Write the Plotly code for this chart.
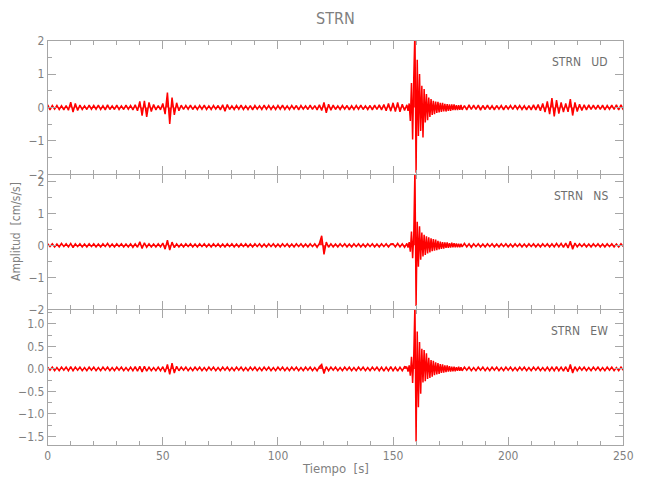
import plotly.graph_objects as go

# ---- sampling grid (s): 1 s before/after the event, 0.5 s inside the event window
t_pre = list(range(0, 156))
t_evt = [156 + 0.5 * i for i in range(48)]
t_post = list(range(180, 251))
time_s = t_pre + t_evt + t_post

# ---- UD component (cm/s/s)
ud_pre = [
    0.08, -0.07, 0.06, -0.05, 0.06, -0.06, 0.05, -0.07, 0.06, -0.08,
    0.16, -0.14, 0.12, -0.09, 0.07, -0.06, 0.05, -0.06, 0.07, -0.05,
    0.06, -0.05, 0.07, -0.06, 0.05, -0.07, 0.08, -0.06, 0.05, -0.06,
    0.07, -0.06, 0.05, -0.06, 0.07, -0.05, 0.06, -0.07, 0.08, -0.10,
    0.18, -0.24, 0.20, -0.28, 0.15, -0.12, 0.09, -0.07, 0.06, -0.07,
    0.12, -0.20, 0.45, -0.49, 0.30, -0.22, 0.14, -0.10, 0.07, -0.06,
    0.06, -0.05, 0.07, -0.06, 0.05, -0.06, 0.06, -0.05, 0.07, -0.06,
    0.05, -0.06, 0.06, -0.05, 0.06, -0.07, 0.08, -0.11, 0.09, -0.06,
    0.05, -0.06, 0.06, -0.05, 0.07, -0.06, 0.05, -0.06, 0.06, -0.07,
    0.06, -0.05, 0.05, -0.06, 0.07, -0.05, 0.06, -0.06, 0.05, -0.06,
    0.06, -0.05, 0.07, -0.06, 0.05, -0.06, 0.06, -0.05, 0.06, -0.07,
    0.06, -0.05, 0.05, -0.06, 0.07, -0.06, 0.06, -0.07, 0.08, -0.09,
    0.15, -0.16, 0.10, -0.08, 0.07, -0.06, 0.05, -0.06, 0.06, -0.05,
    0.06, -0.07, 0.05, -0.06, 0.06, -0.05, 0.07, -0.06, 0.05, -0.06,
    0.06, -0.07, 0.07, -0.06, 0.08, -0.07, 0.09, -0.10, 0.12, -0.11,
    0.14, -0.12, 0.15, -0.13, 0.10, -0.09,
]
ud_evt = [
    0.08, -0.10, 0.12, -0.40, 0.73, -0.96, 0.90, 2.30, -1.95, 1.43,
    -0.85, 1.00, -0.70, 0.65, -0.90, 0.55, -0.45, 0.40, -0.38, 0.30,
    -0.28, 0.25, -0.22, 0.20, -0.20, 0.18, -0.16, 0.17, -0.15, 0.14,
    -0.13, 0.14, -0.12, 0.11, -0.12, 0.10, -0.10, 0.09, -0.10, 0.09,
    -0.08, 0.09, -0.08, 0.07, -0.08, 0.07, -0.07, 0.08,
]
ud_post = [
    -0.07, 0.06, -0.07, 0.08, -0.06, 0.07, -0.06, 0.07, -0.08, 0.06,
    -0.06, 0.07, -0.06, 0.05, -0.07, 0.06, -0.05, 0.06, -0.07, 0.06,
    -0.05, 0.06, -0.06, 0.07, -0.05, 0.06, -0.06, 0.05, -0.07, 0.06,
    -0.07, 0.08, -0.07, 0.09, -0.10, 0.12, -0.14, 0.18, -0.20, 0.28,
    -0.27, 0.22, -0.18, 0.15, -0.14, 0.12, -0.13, 0.25, -0.24, 0.15,
    -0.12, 0.10, -0.09, 0.08, -0.07, 0.08, -0.06, 0.07, -0.06, 0.07,
    -0.06, 0.07, -0.07, 0.06, -0.05, 0.07, -0.06, 0.08, -0.07, 0.08,
    -0.07,
]

# ---- NS component
ns_pre = [
    0.05, -0.04, 0.05, -0.05, 0.04, -0.05, 0.06, -0.04, 0.05, -0.05,
    0.06, -0.07, 0.05, -0.04, 0.05, -0.05, 0.04, -0.05, 0.05, -0.04,
    0.05, -0.05, 0.04, -0.05, 0.05, -0.04, 0.06, -0.05, 0.04, -0.05,
    0.05, -0.04, 0.05, -0.05, 0.04, -0.05, 0.05, -0.06, 0.05, -0.06,
    0.11, -0.10, 0.08, -0.06, 0.05, -0.05, 0.04, -0.05, 0.05, -0.05,
    0.07, -0.12, 0.16, -0.15, 0.10, -0.07, 0.05, -0.05, 0.04, -0.05,
    0.05, -0.04, 0.05, -0.05, 0.04, -0.05, 0.05, -0.04, 0.05, -0.05,
    0.04, -0.05, 0.05, -0.04, 0.05, -0.05, 0.04, -0.05, 0.05, -0.04,
    0.05, -0.05, 0.04, -0.05, 0.05, -0.04, 0.05, -0.05, 0.04, -0.05,
    0.05, -0.04, 0.05, -0.05, 0.04, -0.05, 0.05, -0.04, 0.05, -0.05,
    0.04, -0.05, 0.05, -0.04, 0.05, -0.05, 0.04, -0.05, 0.05, -0.04,
    0.05, -0.05, 0.04, -0.05, 0.05, -0.04, 0.05, -0.06, 0.06, 0.30,
    -0.28, 0.10, -0.06, 0.05, -0.05, 0.04, -0.05, 0.05, -0.04, 0.05,
    -0.05, 0.04, -0.05, 0.05, -0.04, 0.05, -0.05, 0.04, -0.05, 0.05,
    -0.04, 0.05, -0.05, 0.04, -0.05, 0.05, -0.04, 0.05, -0.05, 0.04,
    0.05, -0.05, 0.06, -0.05, 0.05, -0.06,
]
ns_evt = [
    0.06, -0.07, 0.10, -0.20, 0.43, -0.40, 0.35, 2.40, -1.90, 0.74,
    -0.67, 0.60, -0.45, 0.40, -0.35, 0.33, -0.30, 0.28, -0.25, 0.25,
    -0.22, 0.22, -0.18, 0.20, -0.17, 0.18, -0.15, 0.14, -0.13, 0.12,
    -0.11, 0.10, -0.10, 0.09, -0.08, 0.09, -0.08, 0.07, -0.07, 0.08,
    -0.06, 0.07, -0.06, 0.06, -0.06, 0.05, -0.06, 0.05,
]
ns_post = [
    -0.05, 0.06, -0.05, 0.05, -0.06, 0.05, -0.04, 0.05, -0.05, 0.04,
    -0.05, 0.05, -0.04, 0.05, -0.05, 0.04, -0.05, 0.05, -0.04, 0.05,
    -0.05, 0.04, -0.05, 0.05, -0.04, 0.05, -0.05, 0.04, -0.05, 0.05,
    -0.04, 0.05, -0.05, 0.04, -0.05, 0.05, -0.04, 0.05, -0.05, 0.05,
    -0.05, 0.06, -0.05, 0.06, -0.06, 0.07, -0.08, 0.13, -0.12, 0.07,
    -0.05, 0.05, -0.04, 0.05, -0.05, 0.04, -0.05, 0.05, -0.04, 0.05,
    -0.05, 0.04, -0.05, 0.05, -0.04, 0.05, -0.05, 0.04, -0.05, 0.05,
    -0.04,
]

# ---- EW component
ew_pre = [
    0.04, -0.03, 0.04, -0.04, 0.03, -0.04, 0.04, -0.03, 0.04, -0.04,
    0.05, -0.04, 0.04, -0.03, 0.04, -0.04, 0.03, -0.04, 0.04, -0.03,
    0.04, -0.04, 0.03, -0.04, 0.04, -0.03, 0.04, -0.04, 0.03, -0.04,
    0.04, -0.03, 0.04, -0.04, 0.03, -0.04, 0.04, -0.04, 0.05, -0.05,
    0.06, -0.07, 0.06, -0.05, 0.04, -0.04, 0.03, -0.04, 0.04, -0.04,
    0.05, -0.07, 0.10, -0.12, 0.13, -0.09, 0.06, -0.04, 0.04, -0.03,
    0.04, -0.04, 0.03, -0.04, 0.04, -0.03, 0.04, -0.04, 0.03, -0.04,
    0.04, -0.03, 0.04, -0.04, 0.03, -0.04, 0.04, -0.03, 0.04, -0.04,
    0.03, -0.04, 0.04, -0.03, 0.04, -0.04, 0.03, -0.04, 0.04, -0.03,
    0.04, -0.04, 0.03, -0.04, 0.04, -0.03, 0.04, -0.04, 0.03, -0.04,
    0.04, -0.03, 0.04, -0.04, 0.03, -0.04, 0.04, -0.03, 0.04, -0.04,
    0.03, -0.04, 0.04, -0.03, 0.04, -0.04, 0.03, -0.04, 0.05, 0.10,
    -0.10, 0.05, -0.04, 0.04, -0.03, 0.04, -0.04, 0.03, -0.04, 0.04,
    -0.03, 0.04, -0.04, 0.03, -0.04, 0.04, -0.03, 0.04, -0.04, 0.03,
    -0.04, 0.04, -0.03, 0.04, -0.04, 0.04, -0.05, 0.04, -0.04, 0.05,
    -0.04, 0.04, -0.05, 0.04, -0.04, 0.05,
]
ew_evt = [
    0.04, -0.06, 0.08, -0.15, 0.27, -0.31, 0.30, 1.45, -1.61, 0.83,
    -0.85, 0.60, -0.55, 0.45, -0.30, 0.42, -0.27, 0.35, -0.22, 0.25,
    -0.20, 0.20, -0.17, 0.18, -0.14, 0.15, -0.12, 0.13, -0.11, 0.11,
    -0.09, 0.10, -0.08, 0.08, -0.07, 0.08, -0.06, 0.06, -0.06, 0.05,
    -0.05, 0.05, -0.05, 0.04, -0.04, 0.05, -0.04, 0.04,
]
ew_post = [
    -0.04, 0.04, -0.03, 0.04, -0.04, 0.03, -0.04, 0.04, -0.03, 0.04,
    -0.04, 0.03, -0.04, 0.04, -0.03, 0.04, -0.04, 0.03, -0.04, 0.04,
    -0.03, 0.04, -0.04, 0.03, -0.04, 0.04, -0.03, 0.04, -0.04, 0.03,
    -0.04, 0.04, -0.03, 0.04, -0.04, 0.03, -0.04, 0.04, -0.04, 0.04,
    -0.04, 0.05, -0.04, 0.04, -0.05, 0.05, -0.06, 0.10, -0.09, 0.05,
    -0.04, 0.04, -0.03, 0.04, -0.04, 0.03, -0.04, 0.04, -0.03, 0.04,
    -0.04, 0.03, -0.04, 0.04, -0.03, 0.04, -0.04, 0.03, -0.04, 0.04,
    -0.03,
]

components = ["UD", "NS", "EW"]
station = "STRN"
series = {
    "UD": ud_pre + ud_evt + ud_post,
    "NS": ns_pre + ns_evt + ns_post,
    "EW": ew_pre + ew_evt + ew_post,
}
y_ranges = {"UD": [-2, 2], "NS": [-2.0, 2.2], "EW": [-1.69, 1.31]}
y_major = {"UD": 1, "NS": 1, "EW": 0.5}
y_minor = {"UD": 0.5, "NS": 0.5, "EW": 0.25}
y_fmt = {"UD": "d", "NS": "d", "EW": ".1f"}

W, H = 650, 500
OFF = 8  # page body margin added by the browser
x0_px, x1_px = 47.7 - OFF, 623.3 - OFF
panels_px = [(40.7 - OFF, 174.3 - OFF), (175.0 - OFF, 309.3 - OFF), (310.0 - OFF, 445.0 - OFF)]

AX = "#a6a6a6"
TXT = "#7f7f7f"
FONT = "DejaVu Sans Condensed, Liberation Sans Narrow, Liberation Sans, sans-serif"

fig = go.Figure()
for i, comp in enumerate(components):
    n = i + 1
    key = "" if n == 1 else str(n)
    fig.add_trace(go.Scatter(
        x=time_s, y=series[comp], mode="lines",
        line=dict(color="#ff0000", width=1.5),
        fill="tozeroy", fillcolor="rgba(255,0,0,0.85)",
        xaxis=f"x{key}", yaxis=f"y{key}",
        showlegend=False, hoverinfo="skip",
    ))
    top, bot = panels_px[i]
    xa = dict(
        domain=[x0_px / W, x1_px / W], range=[0, 250], anchor=f"y{key}",
        automargin=False,
        showline=True, linecolor=AX, linewidth=1, mirror="allticks",
        ticks="inside", ticklen=8, tickcolor=AX, dtick=50, tick0=0,
        minor=dict(dtick=10, ticklen=4, tickcolor=AX, ticks="inside"),
        showgrid=False, zeroline=False,
        showticklabels=(i == 2),
        tickfont=dict(family=FONT, size=12, color=TXT),
    )
    ya = dict(
        domain=[1 - bot / H, 1 - top / H], range=y_ranges[comp],
        anchor=f"x{key}", automargin=False,
        showline=True, linecolor=AX, linewidth=1, mirror="allticks",
        ticks="inside", ticklen=8, tickcolor=AX, dtick=y_major[comp], tick0=0,
        minor=dict(dtick=y_minor[comp], ticklen=4, tickcolor=AX, ticks="inside"),
        showgrid=False, zeroline=False, tickformat=y_fmt[comp],
        tickfont=dict(family=FONT, size=12, color=TXT),
    )
    fig.layout[f"xaxis{key}"] = xa
    fig.layout[f"yaxis{key}"] = ya
    fig.add_annotation(
        x=(610 - OFF) / W, y=1 - (top + 21) / H, xref="paper", yref="paper",
        text=f"{station}&nbsp;&nbsp;&nbsp;{comp}", showarrow=False,
        xanchor="right", yanchor="middle",
        font=dict(family=FONT, size=12, color="#6e6e6e"),
    )

fig.add_annotation(x=(x0_px + x1_px) / 2 / W, y=1 - (18 - OFF) / H, xref="paper", yref="paper",
                   text=station, showarrow=False, xanchor="center", yanchor="middle",
                   font=dict(family=FONT, size=16, color=TXT))
fig.add_annotation(x=(x0_px + x1_px) / 2 / W, y=1 - (468 - OFF) / H, xref="paper", yref="paper",
                   text="Tiempo&nbsp;&nbsp;[s]", showarrow=False, xanchor="center", yanchor="middle",
                   font=dict(family=FONT, size=13, color=TXT))
fig.add_annotation(x=8 / W, y=1 - (232 - OFF) / H, xref="paper", yref="paper",
                   text="Amplitud&nbsp;&nbsp;[cm/s/s]", showarrow=False, textangle=-90,
                   xanchor="center", yanchor="middle",
                   font=dict(family=FONT, size=12, color=TXT))

fig.update_layout(
    width=W, height=H, margin=dict(l=0, r=0, t=0, b=0, autoexpand=False),
    paper_bgcolor="white", plot_bgcolor="white",
)
fig.write_html("out.html")
